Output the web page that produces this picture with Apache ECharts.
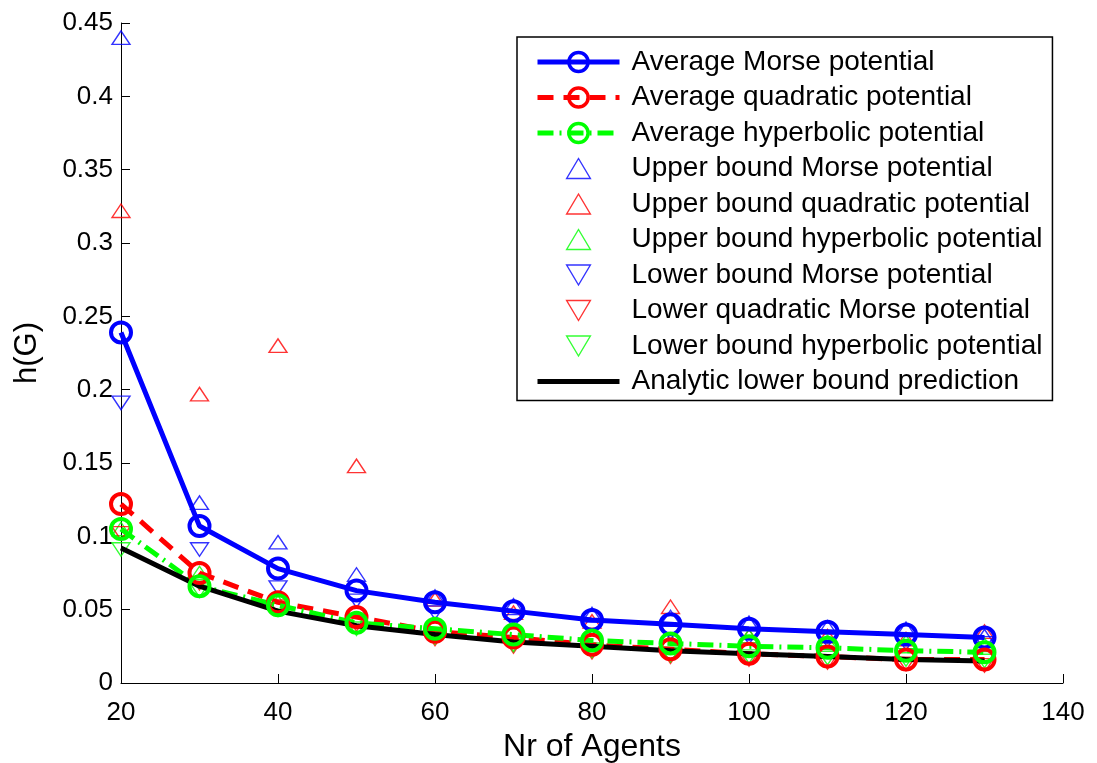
<!DOCTYPE html>
<html><head><meta charset="utf-8">
<script src="https://cdn.jsdelivr.net/npm/echarts@6/dist/echarts.min.js"></script>
<style>html,body{margin:0;padding:0;background:#fff}#c{width:1097px;height:763px}</style>
</head><body><div id="c"></div>
<script>
const agents = [20,30,40,50,60,70,80,90,100,110,120,130];
const avgMorse = [0.239,0.107,0.078,0.063,0.055,0.049,0.043,0.040,0.037,0.035,0.033,0.031];
const avgQuad  = [0.122,0.075,0.055,0.045,0.035,0.031,0.026,0.023,0.020,0.018,0.016,0.016];
const avgHyp   = [0.105,0.066,0.053,0.041,0.037,0.033,0.029,0.027,0.025,0.024,0.022,0.021];
const upMorse  = [0.440,0.123,0.096,0.074,0.059,0.053,0.047,0.045,0.041,0.038,0.037,0.032];
const upQuad   = [0.322,0.197,0.230,0.148,0.057,0.048,0.042,0.052,0.032,0.032,0.030,0.035];
const upHyp    = [0.105,0.075,0.055,0.043,0.040,0.036,0.032,0.029,0.032,0.028,0.028,0.026];
const loMorse  = [0.191,0.091,0.065,0.056,0.048,0.042,0.037,0.034,0.031,0.029,0.027,0.027];
const loQuad   = [0.102,0.068,0.052,0.040,0.030,0.025,0.021,0.018,0.016,0.014,0.013,0.012];
const loHyp    = [0.091,0.063,0.050,0.037,0.031,0.026,0.022,0.019,0.018,0.017,0.016,0.015];
const analytic = [0.092,0.066,0.049,0.039,0.033,0.028,0.025,0.022,0.020,0.018,0.016,0.015];
const names = ['Average Morse potential','Average quadratic potential','Average hyperbolic potential',
 'Upper bound Morse potential','Upper bound quadratic potential','Upper bound hyperbolic potential',
 'Lower bound Morse potential','Lower quadratic Morse potential','Lower bound hyperbolic potential',
 'Analytic lower bound prediction'];
const xTicks = [20,40,60,80,100,120,140];

const pair = a => agents.map((x,i)=>[x,a[i]]);
const BLUE='#0000ff', RED='#ff0000', GREEN='#00ff00';
const UP='path://M9,0 L18,15.6 L0,15.6 Z';
const DOWN='path://M0,0 L18,0 L9,15.6 Z';
// legend icons: triangles inside a padded box so they keep their size
const UP_ICON='path://M0,0 M19,19.2 M9.5,1.6 L19,17.6 L0,17.6 Z';
const DOWN_ICON='path://M0,0 M19,19.2 M0,1.6 L19,1.6 L9.5,17.6 Z';
const LINE_ICON='path://M0,0 L82,0 L82,5 L0,5 Z';
const FONT='Liberation Sans';

function avgSeries(name, data, color, type){
  return {name, type:'line', data:pair(data), symbol:'circle', symbolSize:20,
    lineStyle:{color, width:5, type}, itemStyle:{color:'transparent', borderColor:color, borderWidth:4},
    emphasis:{disabled:true}, animation:false};
}
function triSeries(name, data, color, down){
  return {name, type:'scatter', data:pair(data), symbol: down?DOWN:UP, symbolSize:[18,15.6],
    symbolKeepAspect:true,
    itemStyle:{color:'transparent', borderColor:color, borderWidth:1.4},
    emphasis:{disabled:true}, animation:false};
}

const legendData = names.map((n,i)=>{
  if (i<3) return {name:n, lineStyle:{width:5}, itemStyle:{borderWidth:3.5}};
  if (i<6) return {name:n, icon:UP_ICON, itemStyle:{borderWidth:1.4}};
  if (i<9) return {name:n, icon:DOWN_ICON, itemStyle:{borderWidth:1.4}};
  return {name:n, icon:LINE_ICON};
});

const chart = echarts.init(document.getElementById('c'));
chart.setOption({
  backgroundColor:'#fff',
  animation:false,
  grid:{left:121, right:34, top:23, bottom:80, containLabel:false, outerBoundsMode:'none'},
  xAxis:{type:'value', min:20, max:140, interval:20,
    name:'Nr of Agents', nameLocation:'middle', nameGap:41,
    nameTextStyle:{fontFamily:FONT, fontSize:32, color:'#000'},
    axisLine:{lineStyle:{color:'#000', width:1}},
    axisTick:{inside:true, length:9, lineStyle:{color:'#000'}},
    axisLabel:{fontFamily:FONT, fontSize:26, color:'#000', margin:17,
      formatter: v => xTicks.includes(v) ? String(v) : ''},
    splitLine:{show:false}},
  yAxis:{type:'value', min:0, max:0.45, interval:0.05,
    name:'h(G)', nameLocation:'middle', nameGap:78, nameRotate:90,
    nameTextStyle:{fontFamily:FONT, fontSize:31, color:'#000'},
    axisLine:{show:true, lineStyle:{color:'#000', width:1}},
    axisTick:{show:true, inside:true, length:9, lineStyle:{color:'#000'}},
    axisLabel:{fontFamily:FONT, fontSize:26, color:'#000', margin:8},
    splitLine:{show:false}},
  legend:{orient:'vertical', left:517, top:37,
    backgroundColor:'#fff', borderColor:'#000', borderWidth:1.5,
    padding:[11,10,5,18], itemWidth:82, itemHeight:24, itemGap:7.5,
    textStyle:{fontFamily:FONT, fontSize:28, lineHeight:27, color:'#000', padding:[0,0,0,7]},
    data: legendData, selectedMode:false},
  series:[
    avgSeries(names[0], avgMorse, BLUE, 'solid'),
    avgSeries(names[1], avgQuad, RED, [16,10]),
    avgSeries(names[2], avgHyp, GREEN, [16,6,2,6]),
    triSeries(names[3], upMorse, BLUE, false),
    triSeries(names[4], upQuad, RED, false),
    triSeries(names[5], upHyp, GREEN, false),
    triSeries(names[6], loMorse, BLUE, true),
    triSeries(names[7], loQuad, RED, true),
    triSeries(names[8], loHyp, GREEN, true),
    {name:names[9], type:'line', data:pair(analytic), symbol:'none',
      lineStyle:{color:'#000', width:5}, itemStyle:{color:'#000'}, emphasis:{disabled:true}, animation:false}
  ]
});
</script></body></html>
